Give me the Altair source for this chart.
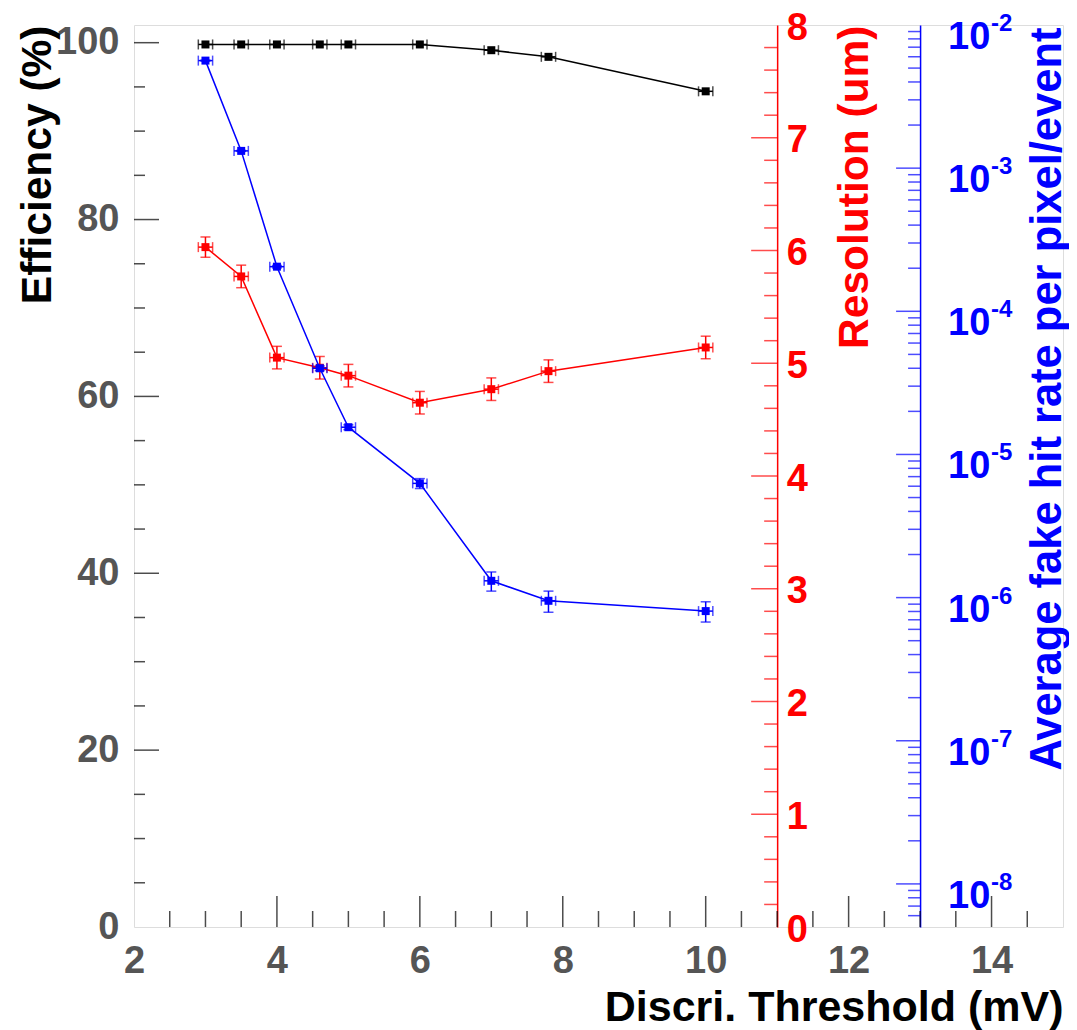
import altair as alt
import pandas as pd

# ---------------- data ----------------
thresholds = [3, 3.5, 4, 4.6, 5, 6, 7, 7.8, 10]          # mV
thr_err = [0.1, 0.1, 0.1, 0.1, 0.1, 0.1, 0.1, 0.1, 0.1]

efficiency = [99.8, 99.8, 99.8, 99.8, 99.8, 99.8, 99.15, 98.4, 94.5]   # %

resolution = [6.03, 5.77, 5.05, 4.96, 4.89, 4.65, 4.77, 4.93, 5.14]    # um
resolution_err = [0.09, 0.1, 0.1, 0.1, 0.1, 0.1, 0.1, 0.1, 0.1]

fake_rate = [5.64e-3, 1.32e-3, 2.05e-4, 4.0e-5, 1.55e-5, 6.28e-6, 1.31e-6, 9.5e-7, 8.05e-7]
fake_rate_err = [5e-5, 1e-5, 4e-6, 1.5e-6, 6e-7, 5e-7, 2.0e-7, 1.6e-7, 1.3e-7]

# axis tick positions / labels
x_labels = [2, 4, 6, 8, 10, 12, 14]
x_major = [4, 6, 8, 10, 12, 14]
x_minor = [2.5, 3, 3.5, 4.5, 5, 5.5, 6.5, 7, 7.5, 8.5, 9, 9.5,
           10.5, 11, 11.5, 12.5, 13, 13.5, 14.5]
eff_labels = [0, 20, 40, 60, 80, 100]
eff_major = [20, 40, 60, 80, 100]
eff_minor = [5, 10, 15, 25, 30, 35, 45, 50, 55, 65, 70, 75, 85, 90, 95]
res_labels = [0, 1, 2, 3, 4, 5, 6, 7, 8]
res_major = [1, 2, 3, 4, 5, 6, 7]
res_minor = [round(i * 0.2, 1) for i in range(1, 40) if i % 5 != 0]
fake_exponents = [-2, -3, -4, -5, -6, -7, -8]
fake_major = [1e-3, 1e-4, 1e-5, 1e-6, 1e-7, 1e-8]
fake_minor = [m * 10.0 ** e for e in range(-9, -2) for m in range(2, 10)
              if 5e-9 < m * 10.0 ** e < 1e-2]

# ---------------- layout constants ----------------
FONT = "Liberation Sans"
W, H = 929, 902
RED = "#ff0000"
BLUE = "#0000ff"
GRAY = "#555555"
RED_AXIS_X = 11
BLUE_AXIS_X = 13
red_offset = W * (RED_AXIS_X - 2) / 13 - W
blue_offset = W * (BLUE_AXIS_X - 2) / 13 - W

df = pd.DataFrame({
    "x": thresholds,
    "xlo": [a - b for a, b in zip(thresholds, thr_err)],
    "xhi": [a + b for a, b in zip(thresholds, thr_err)],
    "eff": efficiency,
    "res": resolution,
    "rlo": [a - b for a, b in zip(resolution, resolution_err)],
    "rhi": [a + b for a, b in zip(resolution, resolution_err)],
    "fake": fake_rate,
    "flo": [a - b for a, b in zip(fake_rate, fake_rate_err)],
    "fhi": [a + b for a, b in zip(fake_rate, fake_rate_err)],
})

# ---------------- scales & axes ----------------
xscale = alt.Scale(domain=[2, 15], nice=False, zero=False)
xaxis = alt.Axis(values=x_labels, ticks=False, tickSize=0, domain=False, grid=False,
                 labelFont=FONT, labelFontSize=38, labelFontWeight="bold",
                 labelColor=GRAY, labelPadding=15, labelFlush=False,
                 title="Discri. Threshold (mV)", titleFont=FONT, titleFontSize=43,
                 titleFontWeight="bold", titleColor="black", titleAlign="right",
                 titleBaseline="alphabetic", titleX=W, titleY=93)

effscale = alt.Scale(domain=[0, 102], nice=False, zero=False)
effaxis = alt.Axis(orient="left", values=eff_labels, ticks=False, tickSize=0,
                   domain=False, grid=False, labelFont=FONT, labelFontSize=38,
                   labelFontWeight="bold", labelColor=GRAY, labelPadding=15,
                   labelFlush=False, title="Efficiency (%)", titleFont=FONT,
                   titleFontSize=42.5, titleFontWeight="bold", titleColor="black",
                   titleAngle=270, titleAlign="right", titleBaseline="alphabetic",
                   titleX=-84, titleY=0)

resscale = alt.Scale(domain=[0, 8], nice=False, zero=False)
resaxis = alt.Axis(orient="right", offset=red_offset, values=res_labels, ticks=False,
                   tickSize=0, domain=True, domainColor=RED, domainWidth=1.5,
                   grid=False, labelFont=FONT, labelFontSize=38, labelFontWeight="bold",
                   labelColor=RED, labelPadding=9, labelFlush=False, labelOffset=3,
                   title="Resolution (um)", titleFont=FONT, titleFontSize=42.5,
                   titleFontWeight="bold", titleColor=RED, titleAngle=270,
                   titleAlign="right", titleBaseline="alphabetic", titleX=90, titleY=0)

fakescale = alt.Scale(type="log", domain=[5e-9, 1e-2], nice=False)
fakeaxis = alt.Axis(orient="right", offset=blue_offset, labels=False, ticks=False,
                    tickSize=0, domain=True, domainColor=BLUE, domainWidth=1.5,
                    grid=False, title="Average fake hit rate per pixel/event",
                    titleFont=FONT, titleFontSize=43.5, titleFontWeight="bold",
                    titleColor=BLUE, titleAngle=270, titleAlign="right",
                    titleBaseline="alphabetic", titleX=140, titleY=2)


def X(f):
    return alt.X(f, type="quantitative", scale=xscale, axis=xaxis)


def Ye(f):
    return alt.Y(f, type="quantitative", scale=effscale, axis=effaxis)


def Yr(f):
    return alt.Y(f, type="quantitative", scale=resscale, axis=resaxis)


def Yf(f):
    return alt.Y(f, type="quantitative", scale=fakescale, axis=fakeaxis)


base = alt.Chart(df)
LW = 1.5


def series(Y, col, color, lo=None, hi=None):
    layers = [
        base.mark_line(color=color, strokeWidth=LW).encode(x=X("x"), y=Y(col)),
        base.mark_rule(color=color, strokeWidth=LW).encode(x=X("xlo"), x2="xhi", y=Y(col)),
        base.mark_tick(orient="vertical", size=10, thickness=LW, color=color)
            .encode(x=X("xlo"), y=Y(col)),
        base.mark_tick(orient="vertical", size=10, thickness=LW, color=color)
            .encode(x=X("xhi"), y=Y(col)),
    ]
    if lo is not None:
        layers += [
            base.mark_rule(color=color, strokeWidth=LW).encode(x=X("x"), y=Y(lo), y2=hi),
            base.mark_tick(orient="horizontal", size=10, thickness=LW, color=color)
                .encode(x=X("x"), y=Y(lo)),
            base.mark_tick(orient="horizontal", size=10, thickness=LW, color=color)
                .encode(x=X("x"), y=Y(hi)),
        ]
    layers.append(base.mark_square(size=64, color=color, opacity=1, filled=True)
                  .encode(x=X("x"), y=Y(col)))
    return layers


def yticks(Y, values, xpos, length, color, direction):
    d = pd.DataFrame({"t": values, "xp": xpos})
    return alt.Chart(d).mark_tick(orient="horizontal", size=length, thickness=1.5,
                                  color=color, xOffset=direction * length / 2
                                  ).encode(x=X("xp"), y=Y("t"))


def xticks(values, length):
    d = pd.DataFrame({"t": values, "b": 0})
    return alt.Chart(d).mark_tick(orient="vertical", size=length, thickness=1.5,
                                  color="black", yOffset=-length / 2
                                  ).encode(x=X("t"), y=Ye("b"))


black = alt.layer(
    xticks(x_major, 31), xticks(x_minor, 16),
    yticks(Ye, eff_major, 2, 25, "black", 1), yticks(Ye, eff_minor, 2, 11, "black", 1),
    *series(Ye, "eff", "black"),
)

red = alt.layer(
    yticks(Yr, res_major, RED_AXIS_X, 26, RED, -1),
    yticks(Yr, res_minor, RED_AXIS_X, 13, RED, -1),
    *series(Yr, "res", RED, "rlo", "rhi"),
)

lab = pd.DataFrame({
    "v": [10.0 ** e for e in fake_exponents],
    "xp": BLUE_AXIS_X,
    "base": ["10" for _ in fake_exponents],
    "exp": [str(e) for e in fake_exponents],
})
blue_base_labels = alt.Chart(lab).mark_text(
    font=FONT, fontSize=38, fontWeight="bold", color=BLUE, align="left",
    baseline="alphabetic", dx=28, dy=24).encode(x=X("xp"), y=Yf("v"), text="base:N")
blue_exp_labels = alt.Chart(lab).mark_text(
    font=FONT, fontSize=24, fontWeight="bold", color=BLUE, align="left",
    baseline="alphabetic", dx=71, dy=6).encode(x=X("xp"), y=Yf("v"), text="exp:N")

blue = alt.layer(
    yticks(Yf, fake_major, BLUE_AXIS_X, 24, BLUE, -1),
    yticks(Yf, fake_minor, BLUE_AXIS_X, 12, BLUE, -1),
    blue_base_labels, blue_exp_labels,
    *series(Yf, "fake", BLUE, "flo", "fhi"),
)

chart = alt.layer(black, red, blue).resolve_scale(y="independent").properties(
    width=W, height=H,
    padding={"left": 126, "top": 17, "right": 6, "bottom": 103},
    autosize=alt.AutoSizeParams(type="none"),
).configure_view(stroke="#cccccc", strokeWidth=2).configure(font=FONT)

chart.save("out.html", embed_options={"renderer": "svg", "actions": False})
